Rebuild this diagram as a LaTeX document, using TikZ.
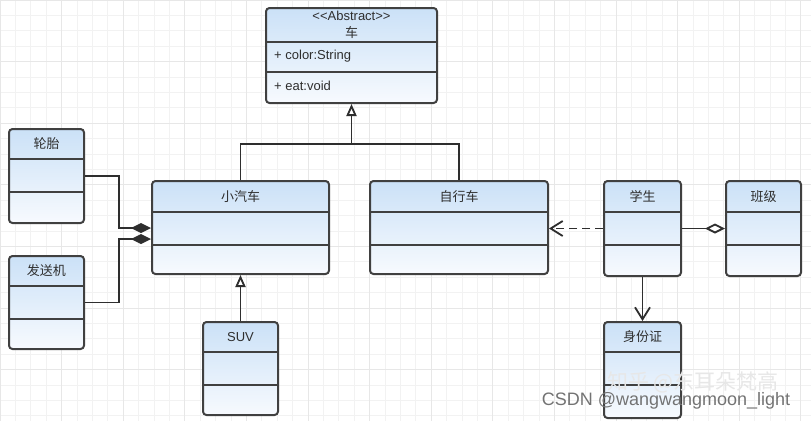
\documentclass[tikz,border=0pt]{standalone}
\usepackage{fontspec}
\setmainfont{Liberation Sans}
\newfontfamily\cjk{Noto Sans CJK SC}
\usetikzlibrary{calc,arrows.meta}

\definecolor{boxline}{HTML}{404040}
\definecolor{headblue}{HTML}{CBE1F7}
\definecolor{paleblue}{HTML}{F7FAFE}
\definecolor{gridminor}{HTML}{F2F2F2}
\definecolor{gridmajor}{HTML}{E7E7E7}
\definecolor{inkgrey}{HTML}{2E2E2E}

\tikzset{
  klassbox/.style={draw=boxline, line width=2pt, rounded corners=3.5pt,
    top color=headblue, bottom color=paleblue, inner sep=0pt},
  divline/.style={draw=boxline, line width=2pt},
  klasstitle/.style={text=inkgrey, font=\fontsize{13}{17}\selectfont, align=center, inner sep=0pt},
  member/.style={text=inkgrey, font=\fontsize{13}{15}\selectfont, anchor=west, inner sep=0pt},
  link/.style={draw=inkgrey, line width=1.8pt},
  inherit/.style={link, -{Triangle[open, length=12pt, width=10pt]}},
  compose/.style={link, -{Diamond[length=20pt, width=10pt]}},
  aggregate/.style={link, -{Diamond[fill=white, length=20pt, width=10pt]}},
  assoc/.style={link, -{Straight Barb[length=12pt, width=15pt]}},
}

% name, left, top, width, height, 1st divider, 2nd divider, title
\newcommand{\klass}[8]{%
  \node[klassbox, minimum width=#4pt, minimum height=#5pt, anchor=north west] (#1) at (#2,#3) {};
  \draw[divline] ($(#1.north west)+(0,#6)$) -- ($(#1.north east)+(0,#6)$);
  \draw[divline] ($(#1.north west)+(0,#7)$) -- ($(#1.north east)+(0,#7)$);
  \node[klasstitle] (#1-title) at ($(#1.north)+(0,#6/2+0.5)$) {#8};
}

\begin{document}
\begin{tikzpicture}[x=1pt, y=-1pt]
\useasboundingbox (0,0) rectangle (811,421);
\fill[white] (0,0) rectangle (811,421);
%background grid
\foreach \i in {0,1,...,52}{\draw[gridminor, line width=0.8pt] (\i*15.4,0) -- (\i*15.4,421);}
\foreach \j in {0,1,...,27}{\draw[gridminor, line width=0.8pt] (0,\j*15.4) -- (811,\j*15.4);}
\foreach \i in {0,4,...,52}{\draw[gridmajor, line width=0.8pt] (\i*15.4,0) -- (\i*15.4,421);}
\foreach \j in {0,4,...,27}{\draw[gridmajor, line width=0.8pt] (0,\j*15.4) -- (811,\j*15.4);}

% classes
\klass{car}{265}{7}{171}{95}{35}{65}{<\kern0pt<Abstract>\kern0pt>\\{\cjk 车}}
\node[member] (carattr) at (274,56) {+ color:String};
\node[member] (carop) at (274,86) {+ eat:void};

\klass{tire}{8}{128}{75}{94}{31}{64}{\cjk 轮胎}
\klass{engine}{8}{255}{75}{93}{31}{64}{\cjk 发送机}
\klass{minicar}{151}{180}{177}{93}{32}{65}{\cjk 小汽车}
\klass{bike}{369}{180}{178}{93}{32}{65}{\cjk 自行车}
\klass{student}{603}{180}{77}{95}{32}{65}{\cjk 学生}
\klass{clazz}{725}{180}{75}{95}{32}{65}{\cjk 班级}
\klass{suv}{202}{321}{75}{93}{31}{64}{SUV}
\klass{idcard}{603}{321}{77}{96}{31}{64}{\cjk 身份证}

% inheritance
\coordinate (genjoin) at ($(car.south)+(0,40)$);
\draw[link] (minicar.north) |- (genjoin) -| (bike.north);
\draw[inherit] (genjoin) -- (car.south);
\draw[inherit] (suv.north) -- (minicar.south);

% composition
\coordinate (tirejoint) at ($(minicar.west)+(0,0.5)$);
\coordinate (enginejoint) at ($(minicar.west)+(0,11.5)$);
\draw[compose] (tire.east) -- ++(34,0) |- (tirejoint);
\draw[compose] (engine.east) -- ++(34,0) |- (enginejoint);

% dependency, aggregation, association
\draw[assoc, dash pattern=on 8pt off 5pt] (student.west) -- (student.west -| bike.east);
\draw[aggregate] (student.east) -- (student.east -| clazz.west);
\draw[assoc] (student.south) -- (student.south |- idcard.north);

% watermarks
\node[text=gridmajor, font=\cjk\fontsize{21}{23}\selectfont, inner sep=0pt] (zhmark) at (693,382) {知乎 @东耳朵梵高};
\node[text=black!55, font=\fontsize{18}{20}\selectfont, inner sep=0pt] (csdnmark) at (666,401) {CSDN @wangwangmoon\_light};
\end{tikzpicture}
\end{document}
